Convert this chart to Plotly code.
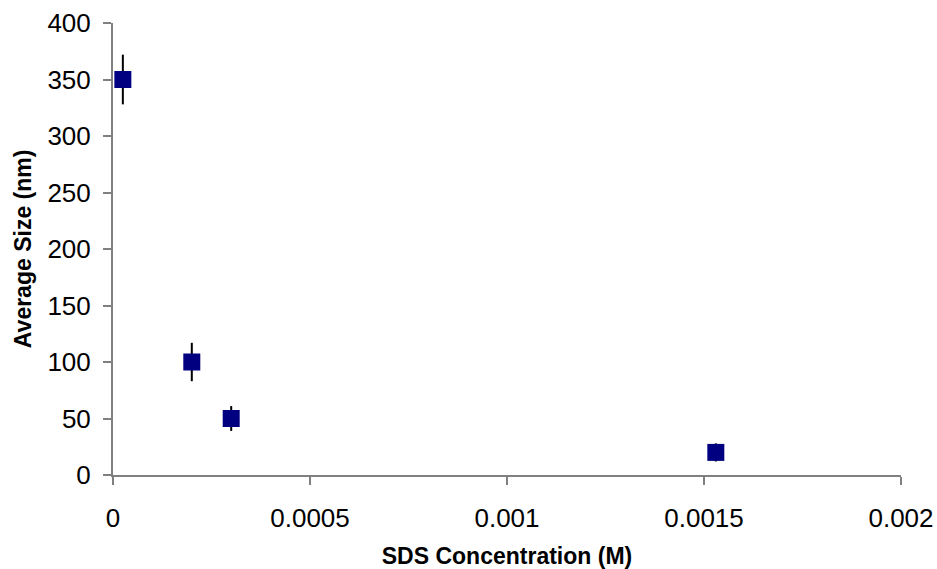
import plotly.graph_objects as go

sds_conc = [0.000025, 0.0002, 0.0003, 0.00153]
avg_size = [350, 100, 50, 20]
size_err = [22, 17, 11, 8]

x_ticks = [0, 0.0005, 0.001, 0.0015, 0.002]
x_tick_text = ["0", "0.0005", "0.001", "0.0015", "0.002"]
y_ticks = [0, 50, 100, 150, 200, 250, 300, 350, 400]

fig = go.Figure()
fig.add_trace(go.Scatter(
    x=sds_conc, y=avg_size, mode="markers",
    marker=dict(symbol="square", size=17, color="#000080", line=dict(width=0)),
    error_y=dict(type="data", array=size_err, visible=True, color="black", thickness=2, width=0),
    showlegend=False,
))

fig.update_layout(
    width=937, height=569,
    margin=dict(l=113, r=36, t=23, b=94),
    paper_bgcolor="white", plot_bgcolor="white",
    font=dict(family="Liberation Sans, Arial, sans-serif", color="black"),
    xaxis=dict(
        range=[0, 0.002], tickvals=x_ticks, ticktext=x_tick_text,
        automargin=False,
        showgrid=False, zeroline=False, showline=True, linecolor="#808080", linewidth=2,
        ticks="outside", ticklen=8, tickcolor="#808080", tickwidth=2,
        ticklabelstandoff=11,
        tickfont=dict(size=26),
        title=dict(text="<b>SDS Concentration (M)</b>", font=dict(size=23), standoff=16),
    ),
    yaxis=dict(
        range=[0, 400], tickvals=y_ticks,
        automargin=False,
        showgrid=False, zeroline=False, showline=True, linecolor="#808080", linewidth=2,
        ticks="outside", ticklen=8, tickcolor="#808080", tickwidth=2,
        ticklabelstandoff=7,
        tickfont=dict(size=26),
    ),
    annotations=[dict(
        text="<b>Average Size (nm)</b>", textangle=-90,
        xref="paper", yref="paper", x=-0.114, y=0.5,
        xanchor="center", yanchor="middle", showarrow=False,
        font=dict(size=23),
    )],
)

fig.write_html("out.html")
